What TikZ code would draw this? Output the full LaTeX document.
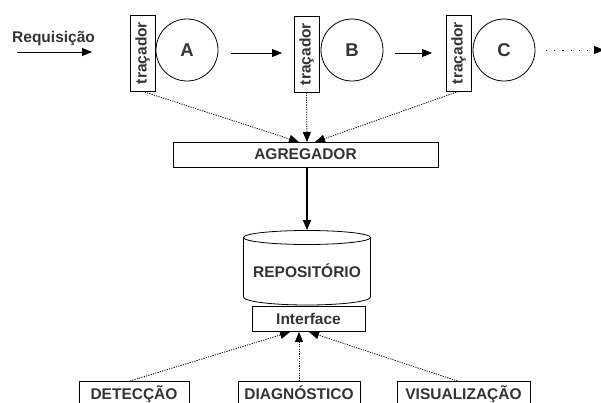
\documentclass[tikz,border=0pt]{standalone}
\usepackage{fontspec}
\setmainfont{Liberation Sans}
\usetikzlibrary{arrows.meta}
\definecolor{txt}{HTML}{333333}
\begin{document}
\begin{tikzpicture}[x=1pt,y=-1pt,
  every node/.style={font=\bfseries\fontsize{15.5}{18}\selectfont, text=txt},
  box/.style={draw, line width=0.8pt, rectangle, inner sep=0pt},
  tracer/.style={box, minimum width=25pt, minimum height=76pt},
  proc/.style={draw, line width=0.8pt, circle, minimum size=62pt, inner sep=0pt,
    font=\bfseries\fontsize{18.5}{22}\selectfont},
  client/.style={box, anchor=north, inner ysep=7pt, text height=11pt, text depth=4pt},
  tip/.style={-{Triangle[length=10pt,width=8pt]}},
  flow/.style={tip, line width=0.8pt},
  feed/.style={tip, line width=0.8pt, dash pattern=on 1.2pt off 1.2pt}]
\useasboundingbox (0,0) rectangle (601,403);

% request entering the chain
\node[anchor=base west, inner sep=0pt] (req) at (12,43) {Requisição};
\coordinate (reqa) at (17,52);
\coordinate (reqb) at (92,52);
\draw[flow] (reqa) -- (reqb);

% services with their tracers
\node[tracer] (ta) at (142.5,53) {};
\node[rotate=90] at (ta) {traçador};
\node[proc] (a) at (187,50) {A};
\node[tracer] (tb) at (306.5,54) {};
\node[rotate=90] at (tb) {traçador};
\node[proc] (b) at (352,50) {B};
\node[tracer] (tc) at (458.5,53) {};
\node[rotate=90] at (tc) {traçador};
\node[proc] (c) at (504,50) {C};

\coordinate (ab1) at (231,53);
\coordinate (ab2) at (282,53);
\coordinate (bc1) at (395,53);
\coordinate (bc2) at (432,53);
\draw[flow] (ab1) -- (ab2);
\draw[flow] (bc1) -- (bc2);
\coordinate (cx1) at (546,50);
\coordinate (cx2) at (604,50);
\draw[tip, line width=0.8pt, dash pattern=on 1.2pt off 7pt] (cx1) -- (cx2);

% aggregator
\node[box, minimum width=265pt, minimum height=25pt] (agg) at (305.5,154.5) {AGREGADOR};
\coordinate (aggin) at (307,142);
\draw[feed] (ta.south) -- ([xshift=-8pt]aggin);
\draw[feed] (tb.south) -- (aggin);
\draw[feed] (tc.south) -- ([xshift=8pt]aggin);

% repository
\node[minimum width=128pt, minimum height=75pt] (repo) at (307,271) {REPOSITÓRIO};
\draw[line width=0.8pt] (307,237.5) ellipse [x radius=63.5pt, y radius=7pt];
\draw[line width=0.8pt] (243.5,237.5) -- (243.5,297)
  arc[start angle=180, end angle=360, x radius=63.5pt, y radius=8pt] -- (370.5,237.5);
\coordinate (repoin) at (307,230);
\draw[tip, line width=1.8pt] (agg.south -| repoin) -- (repoin);

% interface and clients
\node[box, minimum width=113pt, minimum height=25pt] (ui) at (308.5,318.5) {Interface};
\node[client, minimum width=110pt] (det) at (134,381) {DETECÇÃO};
\node[client, minimum width=122pt] (diag) at (299,381) {DIAGNÓSTICO};
\node[client, minimum width=133pt] (vis) at (463.5,381) {VISUALIZAÇÃO};
\coordinate (uiin) at (299,332);
\draw[feed] ([xshift=-4pt]det.north) -- ([xshift=-9pt]uiin);
\draw[feed] (diag.north) -- (uiin);
\draw[feed] ([xshift=-6pt]vis.north) -- ([xshift=10pt]uiin);
\end{tikzpicture}
\end{document}
